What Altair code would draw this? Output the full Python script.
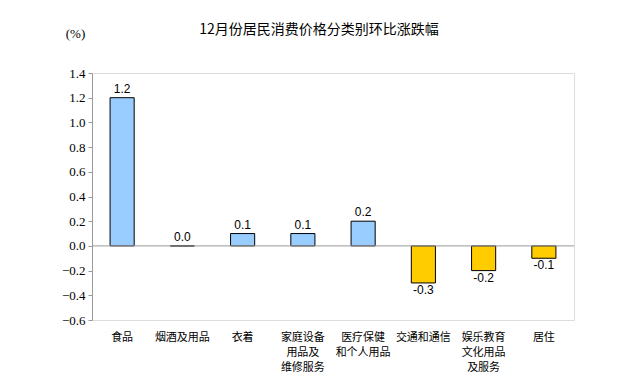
import altair as alt
import pandas as pd

categories = ["食品", "烟酒及用品", "衣着", "家庭设备\n用品及\n维修服务", "医疗保健\n和个人用品",
              "交通和通信", "娱乐教育\n文化用品\n及服务", "居住"]
values = [1.2, 0.0, 0.1, 0.1, 0.2, -0.3, -0.2, -0.1]
y_ticks = [-0.6, -0.4, -0.2, 0.0, 0.2, 0.4, 0.6, 0.8, 1.0, 1.2, 1.4]

df = pd.DataFrame({"cat": categories, "value": values})
df["sign"] = ["pos" if v >= 0 else "neg" for v in values]
df["label"] = [f"{v:.1f}" for v in values]

serif = "'Times New Roman', 'Liberation Serif', serif"

x = alt.X("cat:N", sort=categories, title=None,
          scale=alt.Scale(paddingInner=0.6, paddingOuter=0.3),
          axis=alt.Axis(labelAngle=0, ticks=False, domain=False, labelFont="Noto Sans CJK SC",
                        labelFontSize=11, labelColor="#000", labelPadding=11, labelLineHeight=15,
                        labelExpr="split(datum.label, '\\n')", labelBaseline="top"))
yscale = alt.Scale(domain=[-0.6, 1.4], nice=False, zero=False)
y = alt.Y("value:Q", title="(%)", scale=yscale,
          axis=alt.Axis(values=y_ticks, tickCount=11, format=".1f", grid=False, domainColor="#999",
                        tickColor="#999", tickSize=4, labelFont=serif, labelFontSize=13,
                        labelColor="#000", labelOverlap=False, labelPadding=3, titleAngle=0,
                        titleX=-17, titleY=-33, titleFont=serif, titleFontSize=13,
                        titleFontWeight="normal", titleColor="#000"))

base = alt.Chart(df)
bars = base.mark_bar(stroke="#000", strokeWidth=1).encode(
    x=x, y=y, y2=alt.datum(0),
    color=alt.Color("sign:N", scale=alt.Scale(domain=["pos", "neg"], range=["#99CCFF", "#FFCC00"]), legend=None))
zero = alt.Chart(pd.DataFrame({"value": [0.0]})).mark_rule(color="#999", strokeWidth=1).encode(y=y)
pos_text = base.transform_filter("datum.value >= 0").mark_text(
    baseline="bottom", dy=-2, font="Liberation Sans", fontSize=12, color="#000").encode(
    x=x, y=y, text="label:N")
neg_text = base.transform_filter("datum.value < 0").mark_text(
    baseline="top", dy=2, font="Liberation Sans", fontSize=12, color="#000").encode(
    x=x, y=y, text="label:N")

chart = alt.layer(bars, zero, pos_text, neg_text).properties(
    width=482, height=247,
    title=alt.TitleParams("12月份居民消费价格分类别环比涨跌幅", font="Noto Sans CJK SC", fontSize=14,
                          fontWeight="normal", color="#000", anchor="middle", offset=-10, dx=-14),
    autosize=alt.AutoSizeParams(type="none"),
    padding={"left": 84, "top": 65, "right": 55, "bottom": 64},
).configure_view(stroke="#999", strokeWidth=1).configure(background="white").configure_axisY(
    labelFont=serif, titleFont=serif, labelFontSize=13, titleFontSize=13)

chart.save("out.html", embed_options={"renderer": "svg", "actions": False})
